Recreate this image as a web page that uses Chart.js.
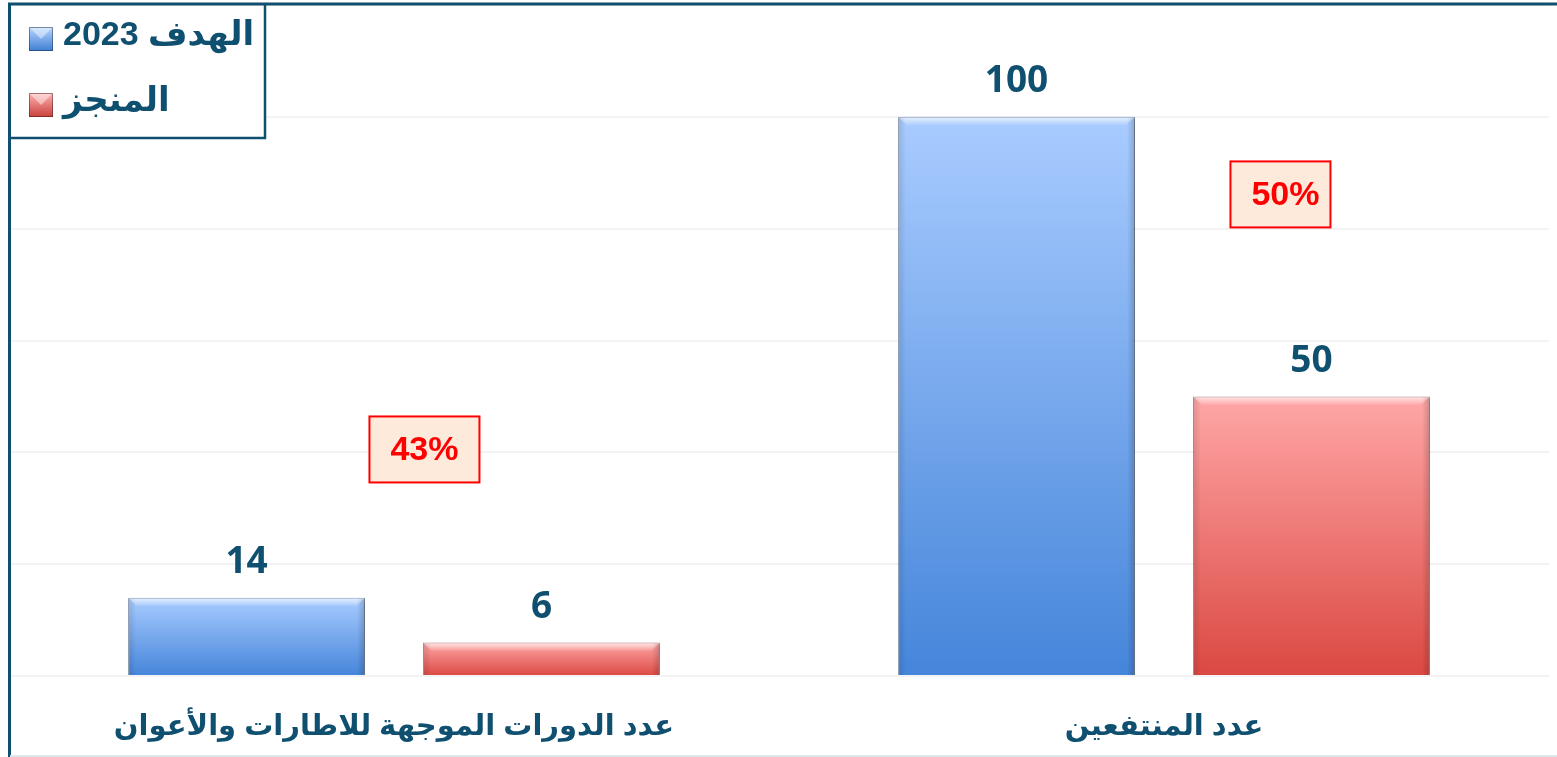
<!DOCTYPE html>
<html lang="ar">
<head>
<meta charset="utf-8">
<script src="https://cdn.jsdelivr.net/npm/chart.js@4/dist/chart.umd.min.js"></script>
<style>
	html, body { margin: 0; padding: 0; background: #fff; }
	#wrap { width: 1557px; height: 757px; position: relative; }
</style>
</head>
<body>
<div id="wrap"><canvas id="hadafChart"></canvas></div>
<script>
const categories = ['عدد الدورات الموجهة للاطارات والأعوان', 'عدد المنتفعين'];
const targetLabel = 'الهدف 2023';
const doneLabel = 'المنجز';
const targetValues = [14, 100];
const doneValues = [6, 50];

const textColor = '#0f4f6f';
const arabicFont = '"Liberation Sans", "DejaVu Sans", sans-serif';

function barGradient(context, top, bottom) {
	const chart = context.chart;
	const { ctx, chartArea, scales } = chart;
	if (!chartArea || context.raw == null) return bottom;
	const y0 = scales.y.getPixelForValue(context.raw);
	const y1 = scales.y.getPixelForValue(0);
	const g = ctx.createLinearGradient(0, y0, 0, y1);
	g.addColorStop(0, top);
	g.addColorStop(1, bottom);
	return g;
}

// frame, legend box, value labels and the percent boxes
const decorPlugin = {
	id: 'decor',
	beforeDatasetsDraw(chart) {
		const ctx = chart.ctx;
		ctx.save();
		ctx.shadowColor = 'rgba(0,0,0,0.28)';
		ctx.shadowBlur = 4;
		ctx.shadowOffsetX = 2;
		ctx.shadowOffsetY = 2;
	},
	afterDatasetsDraw(chart, args, opts) {
		const ctx = chart.ctx;
		ctx.restore();

		// bevel highlight on every bar
		chart.data.datasets.forEach((ds, i) => {
			chart.getDatasetMeta(i).data.forEach(bar => {
				const w = bar.width;
				const left = bar.x - w / 2;
				const hl = ctx.createLinearGradient(0, bar.y, 0, bar.y + 9);
				hl.addColorStop(0, 'rgba(255,255,255,0.75)');
				hl.addColorStop(1, 'rgba(255,255,255,0)');
				ctx.fillStyle = hl;
				ctx.beginPath();
				ctx.moveTo(left + 1, bar.y + 1);
				ctx.lineTo(left + w - 1, bar.y + 1);
				ctx.lineTo(left + w - 9, bar.y + 9);
				ctx.lineTo(left + 9, bar.y + 9);
				ctx.closePath();
				ctx.fill();
				const sd = ctx.createLinearGradient(left + w - 8, 0, left + w, 0);
				sd.addColorStop(0, 'rgba(0,0,0,0)');
				sd.addColorStop(1, 'rgba(0,0,0,0.18)');
				ctx.fillStyle = sd;
				ctx.fillRect(left + w - 8, bar.y + 1, 8, bar.base - bar.y - 1);
				const sl = ctx.createLinearGradient(left, 0, left + 8, 0);
				sl.addColorStop(0, 'rgba(0,0,0,0.12)');
				sl.addColorStop(1, 'rgba(0,0,0,0)');
				ctx.fillStyle = sl;
				ctx.fillRect(left, bar.y + 1, 8, bar.base - bar.y - 1);
			});
		});

		// value labels
		ctx.fillStyle = textColor;
		ctx.font = 'bold 37px "Open Sans", sans-serif';
		ctx.textAlign = 'center';
		ctx.textBaseline = 'middle';
		chart.data.datasets.forEach((ds, i) => {
			chart.getDatasetMeta(i).data.forEach((bar, j) => {
				ctx.fillText(String(ds.data[j]), bar.x, bar.y - 35);
			});
		});

		// achievement percent boxes, placed next to the red bars
		const doneMeta = chart.getDatasetMeta(1);
		doneMeta.data.forEach((bar, j) => {
			const pct = Math.round(doneValues[j] / targetValues[j] * 100) + '%';
			const off = opts.pctOffsets[j];
			const cx = bar.x + off.dx;
			const cy = bar.y + off.dy;
			const bw = off.w, bh = 66;
			ctx.fillStyle = '#fdeadb';
			ctx.fillRect(cx - bw / 2, cy - bh / 2, bw, bh);
			ctx.strokeStyle = '#ff0000';
			ctx.lineWidth = 2;
			ctx.strokeRect(cx - bw / 2, cy - bh / 2, bw, bh);
			ctx.fillStyle = '#ff0000';
			ctx.font = 'bold 34px "Liberation Sans", sans-serif';
			ctx.fillText(pct, cx + off.tx, cy + 1);
		});
	},
	afterDraw(chart) {
		const ctx = chart.ctx;
		ctx.save();
		// outer frame
		ctx.strokeStyle = textColor;
		ctx.lineWidth = 3;
		ctx.beginPath();
		ctx.moveTo(9.5, chart.height);
		ctx.lineTo(9.5, 4);
		ctx.lineTo(chart.width, 4);
		ctx.stroke();
		ctx.strokeStyle = '#dde7ec';
		ctx.lineWidth = 2;
		ctx.beginPath();
		ctx.moveTo(10, chart.height - 1);
		ctx.lineTo(chart.width, chart.height - 1);
		ctx.stroke();

		// legend box
		ctx.fillStyle = '#fff';
		ctx.fillRect(11, 6, 253, 131);
		ctx.strokeStyle = textColor;
		ctx.lineWidth = 2.5;
		ctx.beginPath();
		ctx.moveTo(10, 138);
		ctx.lineTo(265, 138);
		ctx.lineTo(265, 4);
		ctx.stroke();

		const items = [
			{ label: targetLabel, top: '#b8d6ff', bottom: '#3f7fd4', y: 39 },
			{ label: doneLabel, top: '#ffb3b3', bottom: '#c9403b', y: 105 }
		];
		items.forEach(it => {
			const g = ctx.createLinearGradient(0, it.y - 12, 0, it.y + 12);
			g.addColorStop(0, it.top);
			g.addColorStop(1, it.bottom);
			ctx.fillStyle = g;
			ctx.fillRect(29, it.y - 12, 24, 24);
			ctx.strokeStyle = 'rgba(0,0,0,0.35)';
			ctx.lineWidth = 1;
			ctx.strokeRect(29.5, it.y - 11.5, 23, 23);
			ctx.fillStyle = 'rgba(255,255,255,0.45)';
			ctx.beginPath();
			ctx.moveTo(30, it.y - 11);
			ctx.lineTo(52, it.y - 11);
			ctx.lineTo(41, it.y);
			ctx.closePath();
			ctx.fill();

			ctx.fillStyle = textColor;
			ctx.font = 'bold 34px ' + arabicFont;
			ctx.direction = 'rtl';
			ctx.textAlign = 'left';
			ctx.textBaseline = 'middle';
			ctx.fillText(it.label, 63, it.y - 3);
		});
		ctx.restore();
	}
};

new Chart(document.getElementById('hadafChart'), {
	type: 'bar',
	data: {
		labels: categories,
		datasets: [{
			label: targetLabel,
			data: targetValues,
			backgroundColor: ctx => barGradient(ctx, '#a9ccff', '#4585da'),
			borderColor: 'rgba(40,80,140,0.55)',
			borderWidth: 1
		}, {
			label: doneLabel,
			data: doneValues,
			backgroundColor: ctx => barGradient(ctx, '#ffa7a7', '#db4842'),
			borderColor: 'rgba(140,40,40,0.5)',
			borderWidth: 1
		}]
	},
	options: {
		responsive: true,
		maintainAspectRatio: false,
		animation: false,
		categoryPercentage: 0.766,
		barPercentage: 0.803,
		layout: {
			padding: { left: 9, right: 8, top: 5, bottom: 11 }
		},
		plugins: {
			legend: { display: false },
			tooltip: { enabled: false },
			decor: {
				pctOffsets: [
					{ dx: -117, dy: -193, w: 110, tx: 0 },
					{ dx: -31, dy: -202, w: 100, tx: 5 }
				]
			}
		},
		scales: {
			y: {
				min: 0,
				max: 120,
				ticks: { display: false, stepSize: 20 },
				grid: { color: '#f3f3f3', drawTicks: false, lineWidth: 2 },
				border: { display: false },
				afterFit: s => { s.width = 0; }
			},
			x: {
				grid: { display: false, drawTicks: false },
				border: { display: false },
				ticks: {
					color: textColor,
					padding: 34,
					font: { family: arabicFont, size: 29, weight: 'bold' }
				},
				afterFit: s => { s.height = 70; }
			}
		}
	},
	plugins: [decorPlugin]
});
</script>
</body>
</html>
